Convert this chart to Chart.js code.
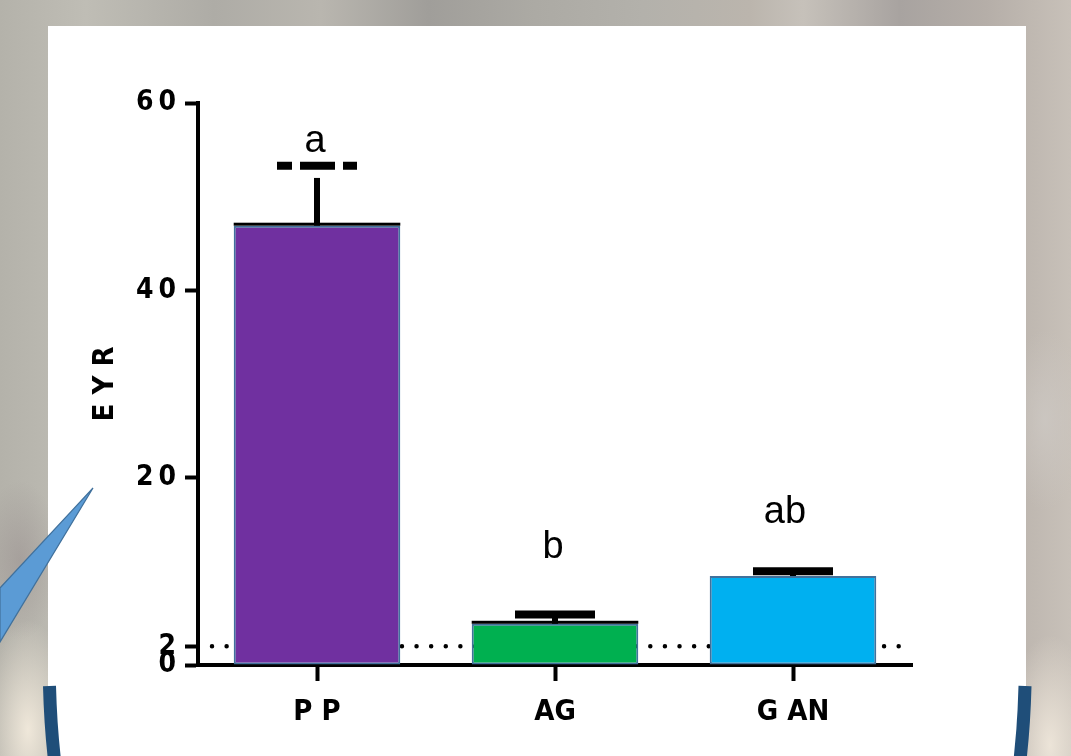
<!DOCTYPE html>
<html>
<head>
<meta charset="utf-8">
<script src="https://cdn.jsdelivr.net/npm/chart.js@4.4.0/dist/chart.umd.min.js"></script>
<style>
html,body{margin:0;padding:0;width:1071px;height:756px;overflow:hidden;}
body{
  position:relative;
  background:
    radial-gradient(ellipse 45px 110px at 28px 730px, rgba(242,234,220,0.95), rgba(242,234,220,0)),
    radial-gradient(ellipse 45px 110px at 1050px 745px, rgba(238,230,218,0.95), rgba(238,230,218,0)),
    radial-gradient(ellipse 40px 80px at 20px 560px, rgba(150,140,140,0.5), rgba(150,140,140,0)),
    radial-gradient(ellipse 40px 90px at 1045px 420px, rgba(205,200,195,0.8), rgba(205,200,195,0)),
    linear-gradient(90deg,#b4b2aa 0%,#bfbdb5 8%,#aeaca6 20%,#b9b6af 30%,#a09e9a 40%,#acaaa4 50%,#b3b1ab 60%,#bbb5ad 70%,#c6c1ba 75%,#a8a3a0 84%,#b5aea8 92%,#c8c1b9 100%);
}
#panel{position:absolute;left:48px;top:26px;width:978px;height:730px;background:#ffffff;}
#wrap{position:absolute;left:0;top:0;width:1071px;height:756px;}
#deco{position:absolute;left:0;top:0;pointer-events:none;}
</style>
</head>
<body>
<div id="panel"></div>
<div id="wrap"><canvas id="c" width="1071" height="756"></canvas></div>
<svg id="deco" width="1071" height="756" viewBox="0 0 1071 756">
  <polygon points="93,488 0,588 0,642" fill="#5B9BD5" stroke="#41719C" stroke-width="1.2"/>
  <path d="M49.5,686 Q50.5,725 54.5,760" fill="none" stroke="#1F4E79" stroke-width="13"/>
  <path d="M1025,686 Q1024,725 1020,760" fill="none" stroke="#1F4E79" stroke-width="13"/>
</svg>
<script>
// ---- data ----
const categories = ['P P', 'AG', 'G AN'];
const meanValues = [46.9, 4.4, 9.5];
const errorTop = [53.3, 5.4, 10.0];
const stemTop = [52.0, 5.4, 10.0];
const sigLetters = ['a', 'b', 'ab'];
const sigLetterY = [54.8, 11.4, 15.2];
const yTickValues = [0, 2, 20, 40, 60];
const referenceLine = 2;
const barColors = ['#7030A0', '#00B050', '#00B0F0'];

const COND = "'DejaVu Sans Condensed', 'Liberation Sans', Arial, sans-serif";

const extras = {
  id: 'extras',
  beforeDatasetsDraw(chart) {
    const {ctx, chartArea, scales} = chart;
    const y = scales.y.getPixelForValue(referenceLine);
    ctx.save();
    ctx.strokeStyle = '#000';
    ctx.lineWidth = 4.5;
    ctx.lineCap = 'round';
    ctx.setLineDash([0.01, 14.6]);
    ctx.beginPath();
    ctx.moveTo(chartArea.left + 14, y);
    ctx.lineTo(chartArea.right, y);
    ctx.stroke();
    ctx.restore();
  },
  afterDatasetsDraw(chart, args, opts) {
    const {ctx, scales} = chart;
    const meta = chart.getDatasetMeta(0);
    ctx.save();
    ctx.fillStyle = '#000';
    ctx.strokeStyle = '#000';
    meta.data.forEach((bar, i) => {
      const x = bar.x, w = bar.width;
      const yMean = scales.y.getPixelForValue(meanValues[i]);
      const yStem = scales.y.getPixelForValue(stemTop[i]);
      const yCap = scales.y.getPixelForValue(errorTop[i]);
      if (opts.topLine[i]) ctx.fillRect(x - w / 2, yMean - 3, w, 3);
      ctx.fillRect(x - 3, yStem, 6, yMean - yStem);
      ctx.save();
      ctx.lineWidth = 8;
      ctx.setLineDash(opts.capDash[i]);
      ctx.beginPath();
      ctx.moveTo(x - 40, yCap);
      ctx.lineTo(x + 40, yCap);
      ctx.stroke();
      ctx.restore();
      ctx.font = "38px 'Liberation Sans', Arial, sans-serif";
      ctx.textAlign = 'center';
      ctx.textBaseline = 'alphabetic';
      ctx.fillText(sigLetters[i], x - opts.letterShift[i], scales.y.getPixelForValue(sigLetterY[i]));
    });
    ctx.restore();
  }
};

new Chart(document.getElementById('c'), {
  type: 'bar',
  data: {
    labels: categories,
    datasets: [{
      data: meanValues,
      backgroundColor: barColors,
      borderColor: '#41719C',
      borderWidth: 2,
      borderSkipped: false,
      barPercentage: 0.7,
      categoryPercentage: 1.0
    }]
  },
  options: {
    responsive: false,
    animation: false,
    layout: { padding: { left: 80, right: 159, top: 103, bottom: 0 } },
    plugins: {
      legend: { display: false },
      tooltip: { enabled: false },
      extras: {
        topLine: [true, true, false],
        capDash: [[15, 8, 35, 8], [], []],
        letterShift: [2, 2, 8]
      }
    },
    scales: {
      x: {
        z: 1,
        grid: { offset: false, drawOnChartArea: false, tickLength: 16, tickWidth: 4, tickColor: '#000' },
        border: { width: 4, color: '#000' },
        ticks: { color: '#000', padding: 14, maxRotation: 0, font: { family: COND, size: 29, weight: 'bold' } },
        afterFit: s => { s.height = 91; }
      },
      y: {
        z: 1,
        min: 0,
        max: 60,
        afterBuildTicks: s => { s.ticks = yTickValues.map(v => ({ value: v })); },
        grid: { drawOnChartArea: false, tickLength: 13, tickWidth: 4, tickColor: '#000' },
        border: { width: 4, color: '#000' },
        ticks: {
          autoSkip: false, color: '#000', padding: 9,
          font: { family: COND, size: 28, weight: 'bold' },
          callback: v => String(v).split('').join('\u2009')
        },
        title: {
          display: true, text: 'E Y R', color: '#000',
          font: { family: COND, size: 29, weight: 'bold' },
          padding: { top: 8, bottom: 0 }
        },
        afterFit: s => { s.width = 118; }
      }
    }
  },
  plugins: [extras]
});
</script>
</body>
</html>
